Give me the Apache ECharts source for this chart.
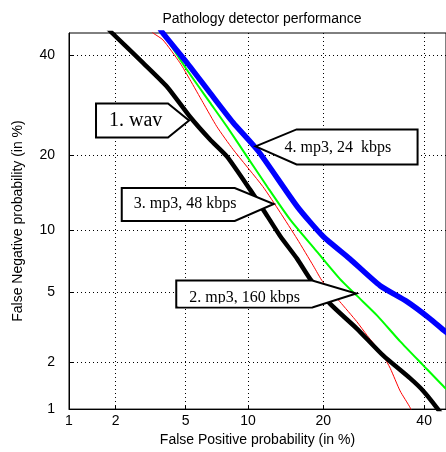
<!DOCTYPE html>
<html>
<head>
<meta charset="utf-8">
<script src="https://cdn.jsdelivr.net/npm/echarts@6/dist/echarts.min.js"></script>
<style>
  html, body { margin: 0; padding: 0; background: #fff; }
  #main { width: 446px; height: 452px; }
</style>
</head>
<body>
<div id="main"></div>
<script>
// tick labels (percent) used on both axes
var tickPercents = [1, 2, 5, 10, 20, 40];
var axisMinPct = 1, axisMaxPct = 45;

// curves: false positive % / false negative %
var wavFP = [1.79, 1.90, 2.91, 3.97, 5.26, 6.64, 8.02, 10.2, 11.6, 13.7, 16.0, 17.9, 21.1, 25.9, 31.1, 36.9, 39.8, 42.9, 44.5];
var wavFN = [46.1, 45.0, 38.2, 33.0, 26.9, 22.7, 19.8, 14.9, 12.4, 9.45, 7.39, 5.89, 4.37, 3.18, 2.21, 1.59, 1.32, 1.02, 0.87];

var kb48FP = [3.11, 3.32, 3.77, 4.66, 5.26, 6.13, 7.18, 8.55, 11.6, 13.7, 16.0, 18.4, 19.9, 22.8, 25.9, 27.9, 31.1, 32.6, 34.7, 36.9, 37.7];
var kb48FN = [46.1, 45.0, 43.4, 38.2, 34.5, 29.7, 25.0, 21.0, 15.3, 12.0, 9.16, 6.84, 5.69, 4.48, 3.48, 2.90, 2.21, 1.84, 1.32, 1.02, 0.87];

var kb160FP = [3.63, 3.77, 5.08, 6.64, 8.02, 9.90, 12.1, 15.0, 19.0, 22.8, 25.9, 29.9, 34.7, 39.8, 44.8, 46.4];
var kb160FN = [46.1, 45.0, 36.6, 29.7, 25.0, 19.8, 15.3, 11.2, 7.98, 5.89, 4.82, 3.76, 2.68, 1.92, 1.38, 1.26];

var kb24FP = [3.59, 3.73, 5.08, 6.64, 8.55, 11.1, 16.0, 19.9, 24.6, 30.5, 36.2, 41.3, 44.8, 46.4];
var kb24FN = [46.4, 45.2, 38.2, 31.7, 25.8, 20.7, 12.7, 9.45, 7.39, 5.43, 4.48, 3.62, 3.06, 2.86];

// callout boxes: text, tip on curve (FP %, FN %)
var notes = [
  {text: '1. wav', tip: [5.2, 26.2], dir: 'right', back: -93, shoulder: -21, top: -17, bottom: 17, tx: -80, ty: 0, size: 20},
  {text: '4. mp3, 24  kbps', tip: [10.8, 21.5], dir: 'left', back: 162, shoulder: 41, top: -17, bottom: 18, tx: 29, ty: 1, size: 16},
  {text: '3. mp3, 48 kbps', tip: [12.9, 13.0], dir: 'right', back: -152, shoulder: -39, top: -16, bottom: 17, tx: -140, ty: 0, size: 16},
  {text: '2. mp3, 160 kbps', tip: [25.8, 4.95], dir: 'right', back: -180, shoulder: -44, top: -13, bottom: 14, tx: -167, ty: 4, size: 16, cut: 10}
];

// inverse normal CDF (Acklam) -> DET (normal deviate) scale
function probit(p) {
    var a = [-3.969683028665376e+01, 2.209460984245205e+02, -2.759285104469687e+02, 1.383577518672690e+02, -3.066479806614716e+01, 2.506628277459239e+00];
    var b = [-5.447609879822406e+01, 1.615858368580409e+02, -1.556989798598866e+02, 6.680131188771972e+01, -1.328068155288572e+01];
    var c = [-7.784894002430293e-03, -3.223964580411365e-01, -2.400758277161838e+00, -2.549732539343734e+00, 4.374664141464968e+00, 2.938163982698783e+00];
    var d = [7.784695709041462e-03, 3.224671290700398e-01, 2.445134137142996e+00, 3.754408661907416e+00];
    var pl = 0.02425, q, r;
    if (p < pl) {
        q = Math.sqrt(-2 * Math.log(p));
        return (((((c[0]*q+c[1])*q+c[2])*q+c[3])*q+c[4])*q+c[5]) / ((((d[0]*q+d[1])*q+d[2])*q+d[3])*q+1);
    }
    if (p <= 1 - pl) {
        q = p - 0.5; r = q * q;
        return (((((a[0]*r+a[1])*r+a[2])*r+a[3])*r+a[4])*r+a[5])*q / (((((b[0]*r+b[1])*r+b[2])*r+b[3])*r+b[4])*r+1);
    }
    q = Math.sqrt(-2 * Math.log(1 - p));
    return -(((((c[0]*q+c[1])*q+c[2])*q+c[3])*q+c[4])*q+c[5]) / ((((d[0]*q+d[1])*q+d[2])*q+d[3])*q+1);
}
function pz(pct) { return probit(pct / 100); }

function toPoints(fp, fn) {
    var out = [];
    for (var i = 0; i < fp.length; i++) out.push([pz(fp[i]), pz(fn[i])]);
    return out;
}

var tickValues = tickPercents.map(pz);
function tickLabel(v) {
    var best = tickPercents[0], bd = 1e9;
    tickPercents.forEach(function (t) {
        var dd = Math.abs(pz(t) - v);
        if (dd < bd) { bd = dd; best = t; }
    });
    return String(best);
}

var font = '"Liberation Sans", Arial, Helvetica, sans-serif';

function makeAxis(name, isY) {
    return {
        type: 'value',
        min: pz(axisMinPct),
        max: pz(axisMaxPct),
        name: name,
        nameLocation: 'middle',
        nameGap: isY ? 44 : 22,
        nameTextStyle: {fontFamily: font, fontSize: 14, color: '#000'},
        axisLine: {show: true, lineStyle: {color: '#000', width: 1}},
        axisTick: {show: true, inside: true, length: 4, customValues: tickValues, lineStyle: {color: '#000'}},
        axisLabel: {customValues: tickValues, formatter: tickLabel, fontFamily: font, fontSize: 14, color: '#000', margin: isY ? 14 : 5},
        splitLine: {show: true, lineStyle: {color: '#000', width: 1, type: [1, 3]}}
    };
}

function curve(name, fp, fn, color, width) {
    return {
        name: name, type: 'line', data: toPoints(fp, fn),
        showSymbol: false, smooth: 0.2,
        lineStyle: {color: color, width: width}, clip: true
    };
}

var dom = document.getElementById('main');
var chart = echarts.init(dom);

var option = {
    animation: false,
    title: {
        text: 'Pathology detector performance',
        left: 257,
        textAlign: 'center',
        top: 7,
        textStyle: {fontFamily: font, fontSize: 14, fontWeight: 'normal', color: '#000'}
    },
    grid: {left: 69, top: 33, right: 0, bottom: 41, show: true, borderColor: '#000', borderWidth: 1, backgroundColor: 'transparent'},
    xAxis: makeAxis('False Positive probability (in %)', false),
    yAxis: makeAxis('False Negative probability (in %)', true),
    series: [
        curve('3. mp3, 48 kbps', kb48FP, kb48FN, '#ff0000', 1),
        curve('2. mp3, 160 kbps', kb160FP, kb160FN, '#00ff00', 2),
        curve('1. wav', wavFP, wavFN, '#000000', 4.5),
        curve('4. mp3, 24 kbps', kb24FP, kb24FN, '#0000ff', 5.5)
    ]
};
chart.setOption(option);

// callouts anchored on the curves
var graphics = [];
notes.forEach(function (n) {
    var tip = chart.convertToPixel({gridIndex: 0}, [pz(n.tip[0]), pz(n.tip[1])]);
    var x = tip[0], y = tip[1], pts;
    if (n.dir === 'right') {
        pts = [[x + n.back, y + n.top], [x + n.shoulder, y + n.top], [x, y], [x + n.shoulder, y + n.bottom], [x + n.back, y + n.bottom]];
    } else {
        pts = [[x, y], [x + n.shoulder, y + n.top], [x + n.back, y + n.top], [x + n.back, y + n.bottom], [x + n.shoulder, y + n.bottom]];
    }
    graphics.push({
        type: 'polygon', z: 100,
        shape: {points: pts},
        style: {fill: '#fff', stroke: '#000', lineWidth: 2}
    });
    graphics.push({
        type: 'text', z: 101,
        style: {
            text: n.text, x: x + n.tx, y: y + n.ty,
            font: n.size + 'px "Liberation Serif", "Times New Roman", serif',
            fill: '#000', textAlign: 'left', textVerticalAlign: 'middle', verticalAlign: 'middle'
        }
    });
    if (n.cut) {
        // the original text is cut off by the lower edge of the box
        graphics.push({
            type: 'rect', z: 102,
            shape: {x: x + n.back + 2, y: y + n.cut, width: n.shoulder - n.back - 2, height: n.bottom - n.cut - 1},
            style: {fill: '#fff'}
        });
    }
});
chart.setOption({graphic: graphics});
</script>
</body>
</html>
